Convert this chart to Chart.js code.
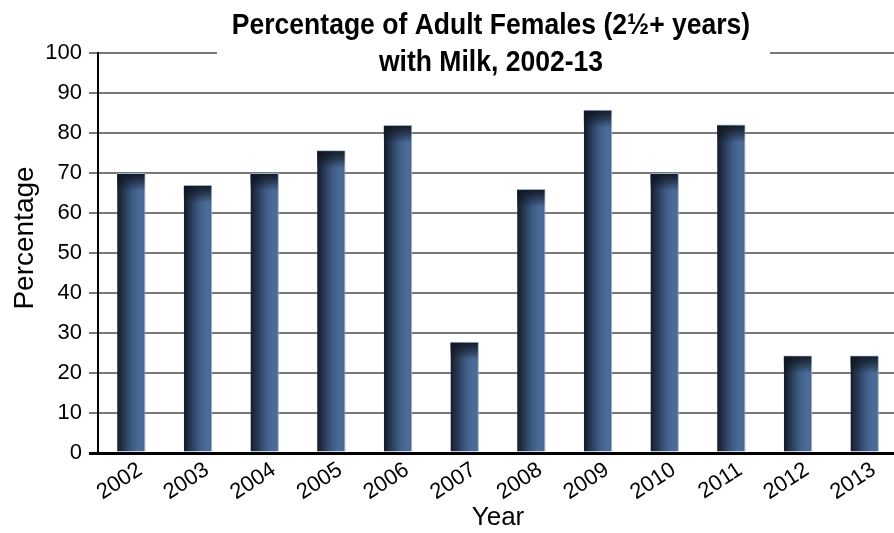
<!DOCTYPE html>
<html>
<head>
<meta charset="utf-8">
<script src="https://cdn.jsdelivr.net/npm/chart.js@4/dist/chart.umd.min.js"></script>
<style>
  html, body { margin: 0; padding: 0; background: #fff; overflow: hidden; }
  #wrap { position: relative; width: 900px; height: 533px; }
</style>
</head>
<body>
<div id="wrap"><canvas id="c"></canvas></div>
<script>
// Survey years and share of adult females (2½+ years) with milk
const years = ['2002', '2003', '2004', '2005', '2006', '2007', '2008', '2009', '2010', '2011', '2012', '2013'];
const pctWithMilk = [70, 67, 70, 75.7, 82, 27.8, 66, 85.8, 70, 82.1, 24.4, 24.4];
const yTicks = [0, 10, 20, 30, 40, 50, 60, 70, 80, 90, 100];
const titleLines = ['Percentage of Adult Females (2\u00BD+ years)', 'with Milk, 2002-13'];
const yAxisTitle = 'Percentage';
const xAxisTitle = 'Year';

const BAR_PCT = 0.426;
const BODY_FONT = "'Liberation Sans', Arial, sans-serif";

// Horizontal shading across each bar: dark left edge to steel blue
function barFill(ctx) {
  const chart = ctx.chart;
  const xs = chart.scales.x;
  if (!xs || ctx.dataIndex === undefined) return '#3f5d85';
  const cx = xs.getPixelForValue(ctx.dataIndex);
  const half = (xs.width / years.length) * BAR_PCT / 2;
  if (!isFinite(cx) || !isFinite(half) || half <= 0) return '#3f5d85';
  const g = chart.ctx.createLinearGradient(cx - half, 0, cx + half, 0);
  g.addColorStop(0, '#141b27');
  g.addColorStop(0.2, '#24334c');
  g.addColorStop(0.52, '#3d5a83');
  g.addColorStop(0.78, '#4b6c98');
  g.addColorStop(1, '#4a6a97');
  return g;
}

// Dark band fading down from the top of every bar
const barTopShade = {
  id: 'barTopShade',
  afterDatasetsDraw(chart) {
    const { ctx } = chart;
    chart.getDatasetMeta(0).data.forEach(bar => {
      const h = Math.min(18, bar.base - bar.y);
      if (!isFinite(bar.y) || !isFinite(h) || h <= 0) return;
      const g = ctx.createLinearGradient(0, bar.y, 0, bar.y + h);
      g.addColorStop(0, 'rgba(16,22,33,0.95)');
      g.addColorStop(0.45, 'rgba(16,22,33,0.6)');
      g.addColorStop(1, 'rgba(16,22,33,0)');
      ctx.save();
      ctx.fillStyle = g;
      ctx.fillRect(bar.x - bar.width / 2, bar.y + 1, bar.width - 1, h);
      ctx.restore();
    });
  }
};

// Two-line heading on a white panel, plus the rotated y-axis title
const headings = {
  id: 'headings',
  afterDraw(chart) {
    const { ctx, chartArea } = chart;
    ctx.save();
    ctx.fillStyle = '#fff';
    ctx.fillRect(217, 0, 553, 80);
    ctx.fillStyle = '#000';
    ctx.textAlign = 'center';
    ctx.textBaseline = 'alphabetic';
    ctx.font = "bold 29px " + BODY_FONT;
    const cx = 491;
    const baselines = [34, 71];
    titleLines.forEach((line, i) => {
      ctx.save();
      ctx.translate(cx, baselines[i]);
      ctx.scale(0.915, 1);
      ctx.fillText(line, 0, 0);
      ctx.restore();
    });
    ctx.restore();

    ctx.save();
    ctx.fillStyle = '#000';
    ctx.font = "28px " + BODY_FONT;
    ctx.textAlign = 'center';
    ctx.textBaseline = 'middle';
    ctx.translate(25, (chartArea.top + chartArea.bottom) / 2 - 15);
    ctx.rotate(-Math.PI / 2);
    ctx.fillText(yAxisTitle, 0, 0);
    ctx.restore();
  }
};

new Chart(document.getElementById('c'), {
  type: 'bar',
  data: {
    labels: years,
    datasets: [{
      data: pctWithMilk,
      backgroundColor: barFill,
      borderColor: '#9db0c8',
      borderWidth: { top: 1, right: 1, left: 0, bottom: 0 },
      borderSkipped: false,
      barPercentage: BAR_PCT,
      categoryPercentage: 1
    }]
  },
  options: {
    responsive: true,
    maintainAspectRatio: false,
    animation: false,
    layout: { padding: { top: 53, right: 2, left: 0, bottom: 0 } },
    plugins: { legend: { display: false }, title: { display: false }, tooltip: { enabled: false } },
    scales: {
      x: {
        z: 1,
        grid: { display: false, drawTicks: false },
        border: { display: true, color: '#000', width: 3 },
        ticks: {
          color: '#000',
          font: { family: BODY_FONT, size: 22 },
          maxRotation: 33,
          minRotation: 33,
          padding: 4,
          labelOffset: 9
        },
        title: {
          display: true,
          text: xAxisTitle,
          color: '#000',
          font: { family: BODY_FONT, size: 26 },
          padding: { top: 0, bottom: 0 }
        },
        afterFit(s) { s.height = 80; }
      },
      y: {
        min: 0,
        max: 100,
        afterBuildTicks(s) { s.ticks = yTicks.map(v => ({ value: v })); },
        grid: {
          color: c => (c.tick && c.tick.value === 0 ? '#000' : '#787878'),
          lineWidth: c => (c.tick && c.tick.value === 0 ? 3 : 2),
          tickLength: 9
        },
        border: { display: true, color: '#000', width: 2 },
        ticks: {
          color: '#000',
          font: { family: BODY_FONT, size: 22 },
          padding: 7
        },
        afterFit(s) { s.width = 98; }
      }
    }
  },
  plugins: [barTopShade, headings]
});
</script>
</body>
</html>
